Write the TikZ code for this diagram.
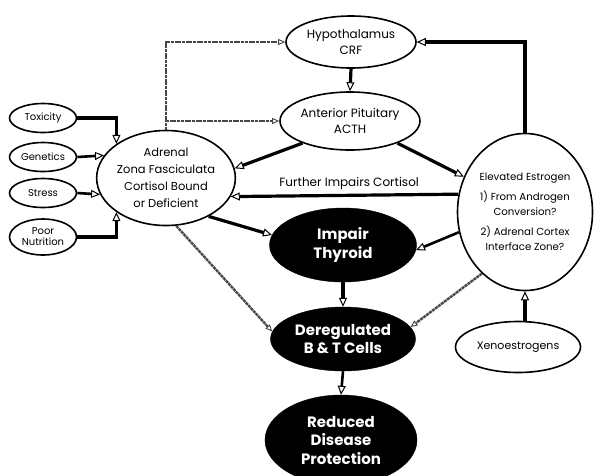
\documentclass[tikz,border=0pt]{standalone}
\usepackage{fontspec}
\setmainfont{Poppins}
\usetikzlibrary{shapes.geometric,arrows.meta}
\begin{document}
\begin{tikzpicture}[x=1pt,y=-1pt,
  el/.style={ellipse,draw,line width=1.6pt,inner sep=0pt,align=center,font=\fontsize{12}{16}\selectfont},
  sm/.style={ellipse,draw,line width=1.6pt,inner sep=0pt,align=center,minimum width=67pt,minimum height=29pt,font=\fontsize{10}{11}\selectfont},
  blk/.style={ellipse,fill=black,draw=black,inner sep=0pt,align=center,text=white,font=\fontsize{15}{18.5}\selectfont\bfseries},
  tip/.style={-{Triangle[open,fill=white,length=9pt,width=8pt,line width=1pt]}},
  heavy/.style={tip,line width=3.2pt},
  med/.style={tip,line width=2.6pt},
  gr/.style={line width=2.4pt,draw=black!72,dash pattern=on 3pt off 0.7pt,-{Triangle[open,fill=white,length=7pt,width=6pt,line width=0.9pt]}},
  lbl/.style={font=\fontsize{12}{14}\selectfont}
]
\useasboundingbox (0,0) rectangle (601,475);

% nodes
\node[el,minimum width=130pt,minimum height=52pt] (hyp) at (351,42) {Hypothalamus\\CRF};
\node[el,minimum width=134pt,minimum height=58pt] (ant) at (350,121) {Anterior Pituitary\\ACTH};
\node[el,minimum width=133pt,minimum height=95pt,font=\fontsize{11.5}{17}\selectfont] (adr) at (166,178) {Adrenal\\Zona Fasciculata\\Cortisol Bound\\or Deficient};
\node[el,minimum width=135pt,minimum height=157pt,font=\fontsize{10.2}{15}\selectfont] (est) at (525,212) {Elevated Estrogen\\[5pt]1) From Androgen\\Conversion?\\[5pt]2) Adrenal Cortex\\Interface Zone?};
\node[el,minimum width=125pt,minimum height=51pt,font=\fontsize{11}{12}\selectfont] (xen) at (518,347) {Xenoestrogens};

\node[sm] (tox) at (43,118) {Toxicity};
\node[sm] (gen) at (43,157) {Genetics};
\node[sm] (str) at (43,193) {Stress};
\node[sm,minimum height=36pt] (poor) at (43,237) {Poor\\Nutrition};

\node[blk,minimum width=147pt,minimum height=74pt] (imp) at (343,245) {Impair\\Thyroid};
\node[blk,minimum width=145pt,minimum height=64pt] (der) at (343,339) {Deregulated\\B \& T Cells};
\node[blk,minimum width=152pt,minimum height=90pt] (red) at (341,440) {Reduced\\Disease\\Protection};

% left inputs
\draw[heavy] (tox.east) -| (adr.north west);
\draw[med] (gen.east) -- (adr.160);
\draw[med] (str.east) -- (adr.194);
\draw[heavy] (poor.east) -| (adr.south west);

% feedback (gray)
\draw[gr] (adr.north) |- (hyp.west);
\draw[gr] (adr.north |- ant.west) -- (ant.west);
\draw[gr] (adr.282) -- (der.174);
\draw[gr] (est.235) -- (der.10);

% axis
\draw[heavy] (hyp.south) -- (ant.north);
\draw[heavy] (ant.205) -- (adr.8);
\draw[heavy] (ant.335) -- (est.150);
\draw[heavy] (est.north) |- (hyp.east);
\draw[heavy] (est.165) -- (adr.344) node[lbl,pos=0.48,above=0.5pt] (fic) {Further Impairs Cortisol};
\draw[heavy] (adr.318) -- (imp.172);
\draw[med] (est.197) -- (imp.356);
\draw[heavy] (imp.south) -- (der.north);
\draw[med] (der.south) -- (red.north);
\draw[heavy] (est.south |- xen.north) -- (est.south);
\end{tikzpicture}
\end{document}
